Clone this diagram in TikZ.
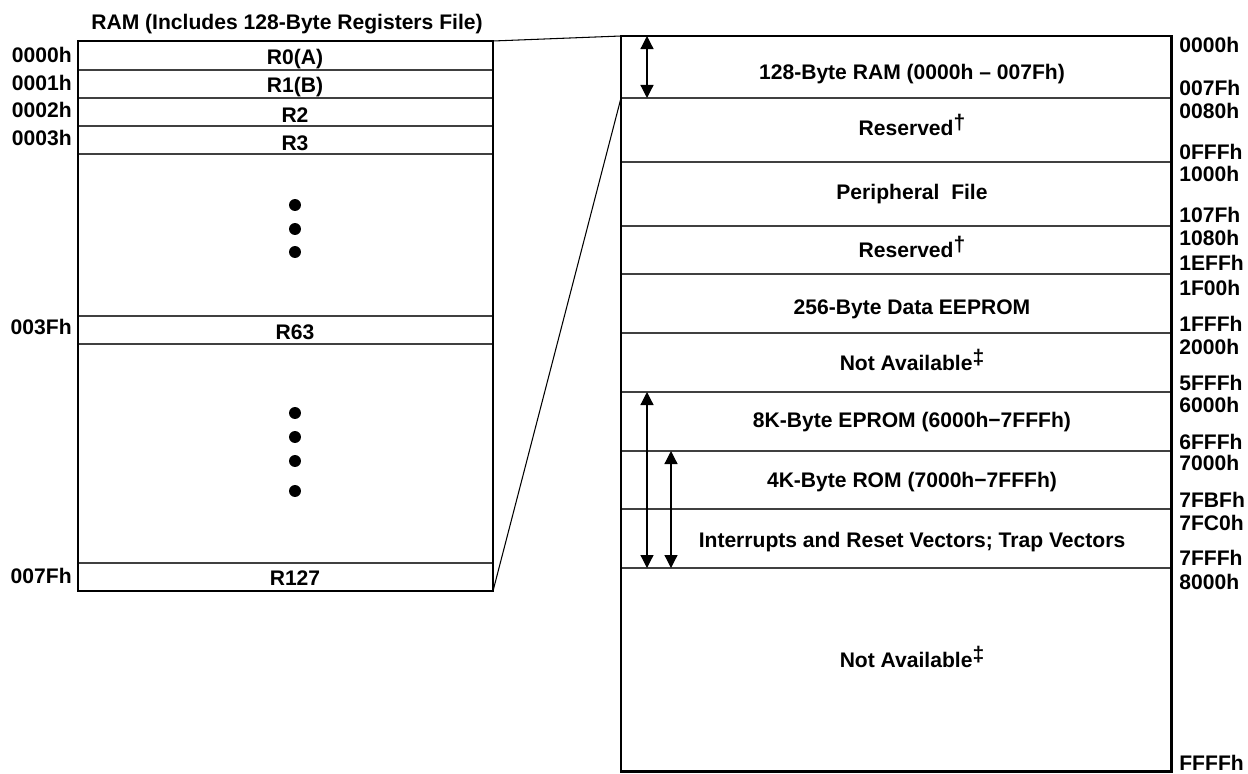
\documentclass[tikz,border=0pt]{standalone}
\usepackage{fontspec}
\setmainfont{Liberation Sans}
\usetikzlibrary{arrows.meta}

\begin{document}
\begin{tikzpicture}[x=0.02cm, y=-0.02cm,
    font=\fontsize{12}{14}\selectfont\bfseries,
    >={Triangle[width=7.4pt, length=7.4pt]},
    frame/.style={line width=1.7pt},
    rowline/.style={line width=0.8pt, black!75},
    linkline/.style={line width=0.6pt},
    span/.style={line width=0.7pt, <->},
    txt/.style={inner sep=0pt, text height=8.6pt, text depth=0pt},
    regl/.style={txt, anchor=east},
    mapl/.style={txt, anchor=west}]

    \useasboundingbox (0,0) rectangle (1248,774);

    % 1. RAM block on the left
    \node[txt] (title) at (287,22) {RAM (Includes 128-Byte Registers File)};
    \foreach \yy in {70,98,126,154,316,344,563}
        \draw[rowline] (78,\yy) -- (493,\yy);
    \draw[frame] (78,41) rectangle (493,591);
    \coordinate (ramTR) at (493,41);
    \coordinate (ramBR) at (493,591);

    % 2. registers and their addresses
    \foreach \reg/\adr/\ry/\ay [count=\k] in {R0(A)/0000h/57/55, R1(B)/0001h/85/83,
            R2/0002h/115/110, R3/0003h/143/138, R63/003Fh/332/327, R127/007Fh/578/576} {
        \node[txt] (reg\k) at (295,\ry) {\reg};
        \node[regl] (adr\k) at (72,\ay) {\adr};
    }
    \foreach \yy in {205,229,252,413,437,461,491}
        \fill (295,\yy) circle[radius=3.4pt];

    % 3. memory map on the right
    \foreach \yy in {98,162,226,274,333,392,451,509,568}
        \draw[rowline] (621,\yy) -- (1171,\yy);
    \draw[frame] (621,36) rectangle (1171,771);
    \coordinate (mapTL) at (621,36);
    \coordinate (mapRam) at (621,98);

    \foreach \txt/\yy [count=\k] in {
            {128-Byte RAM (0000h – 007Fh)}/72,
            {Reserved\raisebox{0.3em}{†}}/128,
            {Peripheral~ File}/192,
            {Reserved\raisebox{0.3em}{†}}/250,
            {256-Byte Data EEPROM}/307,
            {Not Available\raisebox{0.3em}{‡}}/363,
            {8K-Byte EPROM (6000h−7FFFh)}/420,
            {4K-Byte ROM (7000h−7FFFh)}/480,
            {Interrupts and Reset Vectors; Trap Vectors}/540,
            {Not Available\raisebox{0.3em}{‡}}/660}
        \node[txt] (blk\k) at (912,\yy) {\txt};

    % 4. addresses of the memory map
    \foreach \adr/\yy [count=\k] in {0000h/45, 007Fh/88, 0080h/111, 0FFFh/152,
            1000h/174, 107Fh/215, 1080h/238, 1EFFh/263, 1F00h/288, 1FFFh/324,
            2000h/347, 5FFFh/383, 6000h/405, 6FFFh/442, 7000h/463, 7FBFh/500,
            7FC0h/523, 7FFFh/558, 8000h/582, FFFFh/763}
        \node[mapl] (map\k) at (1179,\yy) {\adr};

    % 5. range arrows
    \coordinate (ramTop) at (647,36);
    \coordinate (ramEnd) at (647,98);
    \coordinate (epTop) at (647,392);
    \coordinate (epEnd) at (647,568);
    \coordinate (romTop) at (671,451);
    \coordinate (romEnd) at (671,568);
    \draw[span] (ramTop) -- (ramEnd);
    \draw[span] (epTop) -- (epEnd);
    \draw[span] (romTop) -- (romEnd);

    % 6. zoom lines between the two blocks
    \draw[linkline] (ramTR) -- (mapTL);
    \draw[linkline] (ramBR) -- (mapRam);

\end{tikzpicture}
\end{document}
